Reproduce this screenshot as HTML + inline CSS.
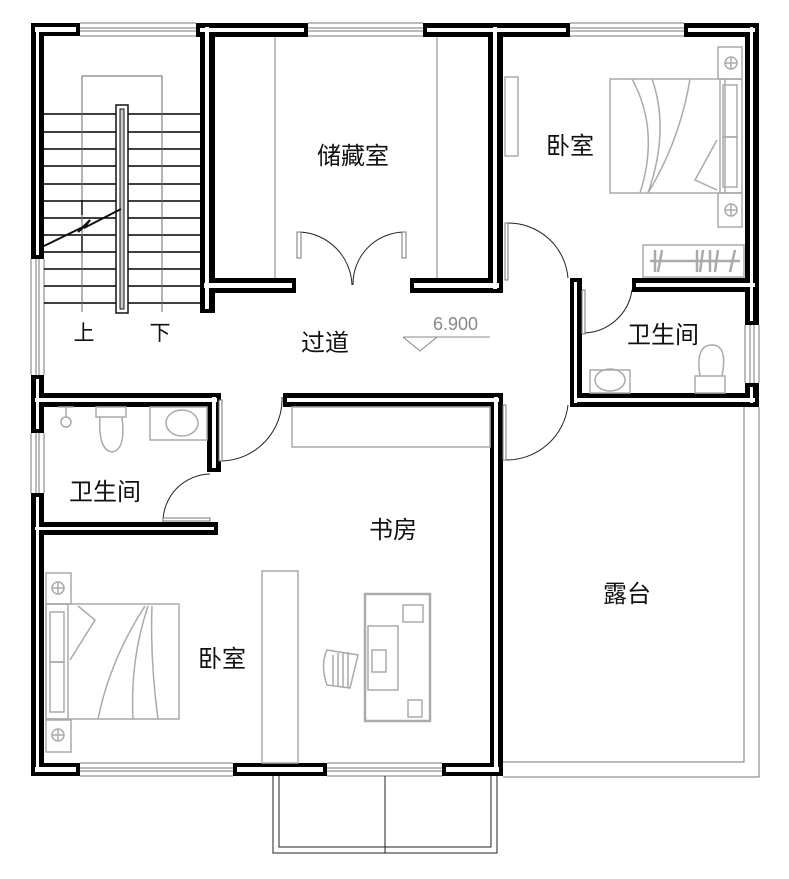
<!DOCTYPE html>
<html><head><meta charset="utf-8"><style>
html,body{margin:0;padding:0;background:#fff;}
svg{display:block;}
text{font-family:"Liberation Sans","Noto Sans CJK SC",sans-serif;}
</style></head><body>
<svg width="789" height="879" viewBox="0 0 789 879" xmlns="http://www.w3.org/2000/svg">
<rect width="789" height="879" fill="#fff"/>
<g stroke="#777" stroke-width="1" fill="none">
<path d="M80 23H196M80 28H196M80 31H196M80 36H196"/>
<path d="M308 23H423M308 28H423M308 31H423M308 36H423"/>
<path d="M570 23H684M570 28H684M570 31H684M570 36H684"/>
<path d="M31 259V375M36 259V375M39 259V375M44 259V375"/>
<path d="M31 433V493M36 433V493M39 433V493M44 433V493"/>
<path d="M745 325V383M750 325V383M754 325V383M759 325V383"/>
<path d="M80 763H233M80 768H233M80 771H233M80 776H233"/>
<path d="M327 763H442M327 768H442M327 771H442M327 776H442"/>
<path d="M744 407V762H503M759 407V777H503"/>
<path d="M273 776V853H497V776M279 776V847H491V776M385 776V853" stroke="#222"/>
</g>
<g fill="#000">
<rect x="31" y="23" width="49" height="13"/>
<rect x="31" y="23" width="13" height="236"/>
<rect x="31" y="375" width="13" height="58"/>
<rect x="31" y="393" width="190" height="14"/>
<rect x="207" y="393" width="14" height="79"/>
<rect x="31" y="493" width="13" height="283"/>
<rect x="31" y="522" width="187" height="13"/>
<rect x="31" y="763" width="49" height="13"/>
<rect x="233" y="763" width="94" height="13"/>
<rect x="442" y="763" width="61" height="13"/>
<rect x="490" y="393" width="13" height="383"/>
<rect x="283" y="393" width="220" height="14"/>
<rect x="196" y="23" width="112" height="14"/>
<rect x="200" y="23" width="15" height="290"/>
<rect x="200" y="278" width="96" height="15"/>
<rect x="423" y="23" width="147" height="14"/>
<rect x="488" y="23" width="15" height="270"/>
<rect x="410" y="278" width="93" height="15"/>
<rect x="684" y="23" width="75" height="14"/>
<rect x="745" y="23" width="14" height="302"/>
<rect x="745" y="383" width="14" height="24"/>
<rect x="632" y="278" width="127" height="14"/>
<rect x="570" y="278" width="12" height="129"/>
<rect x="570" y="393" width="189" height="14"/>
</g>
<g fill="#fff">
<rect x="35" y="27" width="41" height="5"/>
<rect x="36" y="27" width="3" height="228"/>
<rect x="36" y="379" width="3" height="50"/>
<rect x="35" y="398" width="182" height="4"/>
<rect x="212" y="397" width="4" height="71"/>
<rect x="36" y="497" width="3" height="275"/>
<rect x="35" y="527" width="179" height="3"/>
<rect x="35" y="767" width="41" height="5"/>
<rect x="237" y="767" width="86" height="5"/>
<rect x="446" y="767" width="53" height="5"/>
<rect x="494" y="397" width="4" height="375"/>
<rect x="287" y="398" width="212" height="4"/>
<rect x="200" y="28" width="104" height="4"/>
<rect x="205" y="27" width="4" height="282"/>
<rect x="204" y="283" width="88" height="5"/>
<rect x="427" y="28" width="139" height="4"/>
<rect x="493" y="27" width="4" height="262"/>
<rect x="414" y="283" width="85" height="5"/>
<rect x="688" y="28" width="67" height="4"/>
<rect x="750" y="27" width="3" height="294"/>
<rect x="750" y="387" width="3" height="16"/>
<rect x="636" y="283" width="119" height="4"/>
<rect x="574" y="282" width="3" height="121"/>
<rect x="574" y="398" width="181" height="4"/>
</g>
<g stroke="#000" stroke-width="1.5" fill="none">
<path d="M44 114H200M44 132H200M44 149H200M44 166H200M44 184H200M44 201H200M44 218H200M44 235H200M44 252H200M44 269H200M44 286H200M44 303H200"/>
</g>
<g stroke="#666" stroke-width="1" fill="none"><path d="M82 312V76H162V312"/></g>
<rect x="116" y="105" width="12" height="208" fill="#fff" stroke="#111" stroke-width="1.5"/>
<rect x="120" y="109" width="4" height="200" fill="#ccc" stroke="#111" stroke-width="1"/>
<path d="M44 246L85 226L78 232L90 220L84 228L121 209" stroke="#111" stroke-width="2" fill="none"/>
<path d="M82 200V215M82 236V252" stroke="#111" stroke-width="1.5"/>
<g stroke="#222" stroke-width="1" fill="none">
<path d="M300 232A55 55 0 0 1 352 285"/>
<path d="M405 232A52 52 0 0 0 353 285"/>
<path d="M507 223A60 60 0 0 1 568 278"/>
<path d="M584 333A50 50 0 0 0 632 290"/>
<path d="M505 460A62 62 0 0 0 568 405"/>
<path d="M222 461A62 62 0 0 0 282 397"/>
<path d="M163 522A48 48 0 0 1 210 474"/>
</g>
<g stroke="#777" stroke-width="1" fill="#fff">
<rect x="297" y="232" width="4" height="26"/>
<rect x="402" y="232" width="4" height="26"/>
<rect x="505" y="223" width="3" height="57"/>
<rect x="582" y="290" width="3" height="44"/>
<rect x="503" y="405" width="3" height="55"/>
<rect x="219" y="400" width="3" height="61"/>
<rect x="163" y="518" width="47" height="3"/>
</g>
<g stroke="#aaa" stroke-width="1.5" fill="none">
<path d="M275 37V278M437 37V278"/>
<rect x="505" y="77" width="13" height="79"/>
<rect x="610" y="79" width="115" height="114"/>
<rect x="720" y="79" width="22" height="114"/>
<rect x="723" y="85" width="14" height="52"/><rect x="723" y="137" width="14" height="50"/>
<rect x="718" y="47" width="24" height="32"/><rect x="718" y="193" width="24" height="34"/>
<circle cx="731" cy="63" r="6"/><path d="M725 63h12M731 57v12"/>
<circle cx="731" cy="210" r="6"/><path d="M725 210h12M731 204v12"/>
<path d="M632 79Q660 130 640 193M652 79Q670 130 648 193M690 79Q680 140 648 193M717 140L695 180L717 190"/>
<rect x="643" y="245" width="101" height="32"/>
<path d="M650 261H740M655 250V272M662 250L658 272M697 250V272M703 250L700 272M710 250V272M718 250L715 272M735 250L730 272" stroke-width="2.5"/>
<rect x="46" y="604" width="133" height="115"/>
<rect x="46" y="604" width="22" height="115"/>
<rect x="50" y="612" width="14" height="50"/><rect x="50" y="662" width="14" height="50"/>
<rect x="46" y="573" width="25" height="31"/><rect x="46" y="720" width="25" height="32"/>
<circle cx="58" cy="588" r="6"/><path d="M52 588h12M58 582v12"/>
<circle cx="58" cy="735" r="6"/><path d="M52 735h12M58 729v12"/>
<path d="M78 606L95 620L70 660M145 606Q110 660 98 719M148 606Q130 660 133 719M152 606Q150 660 158 719"/>
<rect x="262" y="571" width="36" height="192"/>
<rect x="292" y="407" width="198" height="40"/>
<rect x="365" y="594" width="65" height="127" stroke-width="2.5"/>
<rect x="368" y="626" width="30" height="64"/>
<rect x="403" y="605" width="20" height="17"/>
<rect x="372" y="650" width="14" height="22"/>
<rect x="408" y="700" width="14" height="17"/>
<path d="M327 650Q320 665 327 685L350 688L358 655Z"/>
<path d="M333 655V685M338 653V686M343 652V687M348 652V687"/>
<rect x="150" y="407" width="57" height="33"/>
<ellipse cx="182" cy="423" rx="16" ry="13"/>
<rect x="96" y="407" width="30" height="10"/>
<path d="M100 417Q98 450 112 452Q126 450 122 417"/>
<circle cx="66" cy="422" r="5"/><path d="M58 407H74M66 407V417"/>
<rect x="590" y="370" width="40" height="23"/>
<ellipse cx="610" cy="380" rx="15" ry="11"/>
<rect x="695" y="376" width="30" height="17"/>
<path d="M700 376Q695 345 712 345Q728 345 722 376"/>
</g>
<g fill="none" stroke="#888" stroke-width="1"><path d="M403 337H490M403 337L420 351L437 337"/></g>
<text x="433" y="330" font-size="18" fill="#888">6.900</text>
<g font-size="24" fill="#111" text-anchor="middle">
<text x="353" y="164">储藏室</text>
<text x="570" y="154">卧室</text>
<text x="325" y="351">过道</text>
<text x="663" y="343">卫生间</text>
<text x="105" y="500">卫生间</text>
<text x="393" y="538">书房</text>
<text x="222" y="667">卧室</text>
<text x="627" y="602">露台</text>
<text x="84" y="340" font-size="21">上</text>
<text x="160" y="340" font-size="21">下</text>
</g>
</svg>
</body></html>
